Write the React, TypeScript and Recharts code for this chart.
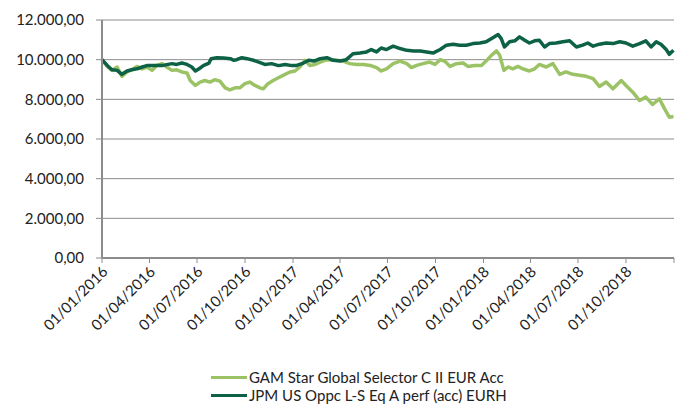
import React from 'react';
import { LineChart, Line, XAxis, YAxis, CartesianGrid, Legend } from 'recharts';

const FONT = 'Lato, "Open Sans", sans-serif';
const LIGHT = '#9bc365';
const DARK = '#0d6146';

// GAM Star Global Selector C II EUR Acc
const gamDates = [
  '2016-01-01', '2016-01-11', '2016-01-20', '2016-01-30', '2016-02-08', '2016-02-18', '2016-02-27', '2016-03-08',
  '2016-03-18', '2016-03-27', '2016-04-06', '2016-04-15', '2016-04-25', '2016-05-04', '2016-05-14', '2016-05-23',
  '2016-06-02', '2016-06-12', '2016-06-18', '2016-06-28', '2016-07-07', '2016-07-16', '2016-07-26', '2016-08-04',
  '2016-08-14', '2016-08-24', '2016-09-02', '2016-09-12', '2016-09-21', '2016-10-01', '2016-10-10', '2016-10-20',
  '2016-10-30', '2016-11-05', '2016-11-14', '2016-11-24', '2016-12-04', '2016-12-13', '2016-12-26', '2017-01-05',
  '2017-01-14', '2017-01-24', '2017-02-02', '2017-02-12', '2017-02-22', '2017-03-03', '2017-03-13', '2017-03-25',
  '2017-04-07', '2017-04-20', '2017-05-03', '2017-05-16', '2017-05-29', '2017-06-10', '2017-06-19', '2017-06-29',
  '2017-07-12', '2017-07-25', '2017-08-07', '2017-08-16', '2017-08-26', '2017-09-07', '2017-09-20', '2017-09-30',
  '2017-10-10', '2017-10-19', '2017-10-29', '2017-11-10', '2017-11-23', '2017-12-02', '2017-12-15', '2017-12-28',
  '2018-01-06', '2018-01-16', '2018-01-26', '2018-02-01', '2018-02-09', '2018-02-17', '2018-02-26', '2018-03-08',
  '2018-03-17', '2018-03-30', '2018-04-09', '2018-04-18', '2018-05-01', '2018-05-14', '2018-05-27', '2018-06-08',
  '2018-06-21', '2018-07-04', '2018-07-17', '2018-07-30', '2018-08-11', '2018-08-24', '2018-09-06', '2018-09-22',
  '2018-10-01', '2018-10-14', '2018-10-27', '2018-11-08', '2018-11-21', '2018-12-04', '2018-12-14', '2018-12-23',
  '2018-12-31',
];
const gamValues = [
  10000, 9660, 9460, 9630, 9160, 9380, 9490, 9660,
  9540, 9630, 9460, 9710, 9800, 9630, 9460, 9490,
  9380, 9330, 8950, 8700, 8870, 8950, 8870, 8990,
  8920, 8580, 8480, 8580, 8580, 8790, 8870, 8700,
  8580, 8530, 8790, 8950, 9090, 9210, 9380, 9430,
  9630, 9970, 9710, 9760, 9880, 9970, 10000, 9970,
  9930, 9800, 9760, 9760, 9710, 9600, 9430, 9540,
  9800, 9930, 9800, 9600, 9710, 9800, 9880, 9760,
  10000, 9920, 9660, 9800, 9830, 9660, 9710, 9710,
  9930, 10220, 10440, 10220, 9460, 9630, 9540, 9660,
  9540, 9430, 9540, 9760, 9630, 9800, 9260, 9380,
  9260, 9210, 9160, 9040, 8650, 8870, 8530, 8950,
  8700, 8360, 7940, 8110, 7740, 8030, 7520, 7100,
  7130,
];

// JPM US Oppc L-S Eq A perf (acc) EURH
const jpmDates = [
  '2016-01-01', '2016-01-11', '2016-01-20', '2016-01-30', '2016-02-08', '2016-02-18', '2016-02-27', '2016-03-08',
  '2016-03-18', '2016-03-27', '2016-04-06', '2016-04-15', '2016-04-25', '2016-05-04', '2016-05-14', '2016-05-23',
  '2016-06-02', '2016-06-12', '2016-06-21', '2016-06-28', '2016-07-05', '2016-07-14', '2016-07-24', '2016-07-28',
  '2016-08-08', '2016-08-21', '2016-09-03', '2016-09-09', '2016-09-15', '2016-09-25', '2016-10-05', '2016-10-17',
  '2016-10-30', '2016-11-08', '2016-11-21', '2016-12-04', '2016-12-17', '2016-12-30', '2017-01-08', '2017-01-21',
  '2017-01-31', '2017-02-10', '2017-02-22', '2017-03-07', '2017-03-19', '2017-04-01', '2017-04-13', '2017-04-26',
  '2017-05-09', '2017-05-22', '2017-05-31', '2017-06-10', '2017-06-19', '2017-06-29', '2017-07-12', '2017-07-25',
  '2017-08-07', '2017-08-20', '2017-09-02', '2017-09-14', '2017-09-27', '2017-10-10', '2017-10-22', '2017-11-04',
  '2017-11-16', '2017-11-29', '2017-12-12', '2017-12-25', '2018-01-06', '2018-01-19', '2018-01-29', '2018-02-04',
  '2018-02-10', '2018-02-20', '2018-03-02', '2018-03-11', '2018-03-21', '2018-03-30', '2018-04-09', '2018-04-18',
  '2018-04-28', '2018-05-07', '2018-05-20', '2018-06-02', '2018-06-15', '2018-06-28', '2018-07-10', '2018-07-20',
  '2018-07-30', '2018-08-11', '2018-08-24', '2018-09-06', '2018-09-19', '2018-10-01', '2018-10-14', '2018-10-27',
  '2018-11-08', '2018-11-18', '2018-11-28', '2018-12-07', '2018-12-17', '2018-12-23', '2018-12-31',
];
const jpmValues = [
  10000, 9710, 9490, 9460, 9260, 9430, 9490, 9540,
  9630, 9700, 9710, 9700, 9700, 9750, 9800, 9760,
  9830, 9760, 9630, 9430, 9540, 9710, 9830, 10050,
  10100, 10080, 10050, 9970, 10000, 10100, 10050, 9970,
  9850, 9760, 9800, 9700, 9760, 9700, 9710, 9830,
  9970, 9930, 10050, 10100, 9970, 9930, 10000, 10300,
  10340, 10390, 10510, 10390, 10590, 10510, 10680, 10560,
  10470, 10440, 10440, 10390, 10340, 10510, 10730, 10780,
  10730, 10730, 10810, 10840, 10900, 11110, 11270, 11060,
  10640, 10900, 10950, 11150, 10980, 10840, 10950, 10980,
  10640, 10810, 10840, 10900, 10950, 10640, 10730, 10840,
  10680, 10780, 10840, 10810, 10900, 10840, 10680, 10810,
  10950, 10640, 10900, 10780, 10510, 10270, 10470,
];

const tickDates = [
  '2016-01-01', '2016-04-01', '2016-07-01', '2016-10-01',
  '2017-01-01', '2017-04-01', '2017-07-01', '2017-10-01',
  '2018-01-01', '2018-04-01', '2018-07-01', '2018-10-01',
  '2019-01-01',
];
const yTicks = [0, 2000, 4000, 6000, 8000, 10000, 12000];

const toTime = (d: string) => {
  const [y, m, day] = d.split('-').map(Number);
  return Date.UTC(y, m - 1, day);
};

const gamData = gamDates.map((d, i) => ({ t: toTime(d), value: gamValues[i] }));
const jpmData = jpmDates.map((d, i) => ({ t: toTime(d), value: jpmValues[i] }));
const xTicks = tickDates.map(toTime);
const lastTick = xTicks[xTicks.length - 1];

const series = [
  { name: 'GAM Star Global Selector C II EUR Acc', color: LIGHT },
  { name: 'JPM US Oppc L-S Eq A perf (acc) EURH', color: DARK },
];

const Y_AXIS_WIDTH = 102;

const formatValue = (v: number) =>
  Math.round(v).toString().replace(/\B(?=(\d{3})+(?!\d))/g, '.') + ',00';

const formatDate = (t: number) => {
  const d = new Date(t);
  const dd = String(d.getUTCDate()).padStart(2, '0');
  const mm = String(d.getUTCMonth() + 1).padStart(2, '0');
  return `${dd}/${mm}/${d.getUTCFullYear()}`;
};

const DateTick = (props: any) => {
  const { x, y, payload } = props;
  if (payload.value === lastTick) return null;
  const ax = x + 3;
  const ay = y + 4;
  return (
    <text
      x={ax}
      y={ay}
      transform={`rotate(-45, ${ax}, ${ay})`}
      textAnchor="end"
      dy="0.35em"
      fontFamily={FONT}
      fontSize={15}
      fill="#222"
    >
      {formatDate(payload.value)}
    </text>
  );
};

// value labels sit 18px left of the axis line, like the original
const ValueTick = (props: any) => {
  const { y, payload } = props;
  return (
    <text
      x={Y_AXIS_WIDTH - 18}
      y={y}
      textAnchor="end"
      dy="0.35em"
      fontFamily={FONT}
      fontSize={15}
      fill="#222"
    >
      {formatValue(payload.value)}
    </text>
  );
};

const renderLegend = () => (
  <div
    style={{
      height: 50,
      boxSizing: 'border-box',
      paddingTop: 6,
      paddingLeft: 211,
      fontFamily: FONT,
      fontSize: 15,
      color: '#222',
    }}
  >
    {series.map((s) => (
      <div key={s.name} style={{ display: 'flex', alignItems: 'center', height: 18, whiteSpace: 'nowrap' }}>
        <span style={{ display: 'inline-block', width: 36, height: 3, background: s.color, marginRight: 2 }} />
        <span>{s.name}</span>
      </div>
    ))}
  </div>
);

const App: React.FC = () => {
  return (
    <div style={{ position: 'absolute', left: 0, top: 0, width: 676, height: 412, background: '#fff' }}>
      <LineChart width={676} height={412} margin={{ top: 20, right: 2, left: 0, bottom: 0 }}>
        <CartesianGrid horizontal vertical={false} stroke="#8c8c8c" strokeWidth={1} />
        <XAxis
          type="number"
          dataKey="t"
          domain={[xTicks[0], lastTick]}
          ticks={xTicks}
          interval={0}
          height={104}
          tickSize={5}
          tickMargin={2}
          axisLine={{ stroke: '#8c8c8c', strokeWidth: 2 }}
          tickLine={{ stroke: '#8c8c8c', strokeWidth: 1 }}
          tick={<DateTick />}
          allowDuplicatedCategory={false}
        />
        <YAxis
          type="number"
          domain={[0, 12000]}
          ticks={yTicks}
          width={Y_AXIS_WIDTH}
          tickSize={6}
          axisLine={{ stroke: '#8c8c8c', strokeWidth: 2 }}
          tickLine={{ stroke: '#8c8c8c', strokeWidth: 1 }}
          tick={<ValueTick />}
        />
        <Legend
          verticalAlign="bottom"
          height={50}
          wrapperStyle={{ left: 0, width: 676 }}
          content={renderLegend}
        />
        <Line
          data={gamData}
          dataKey="value"
          name={series[0].name}
          type="linear"
          stroke={LIGHT}
          strokeWidth={3.5}
          strokeLinejoin="round"
          dot={false}
          isAnimationActive={false}
        />
        <Line
          data={jpmData}
          dataKey="value"
          name={series[1].name}
          type="linear"
          stroke={DARK}
          strokeWidth={3.5}
          strokeLinejoin="round"
          dot={false}
          isAnimationActive={false}
        />
      </LineChart>
    </div>
  );
};

export default App;
